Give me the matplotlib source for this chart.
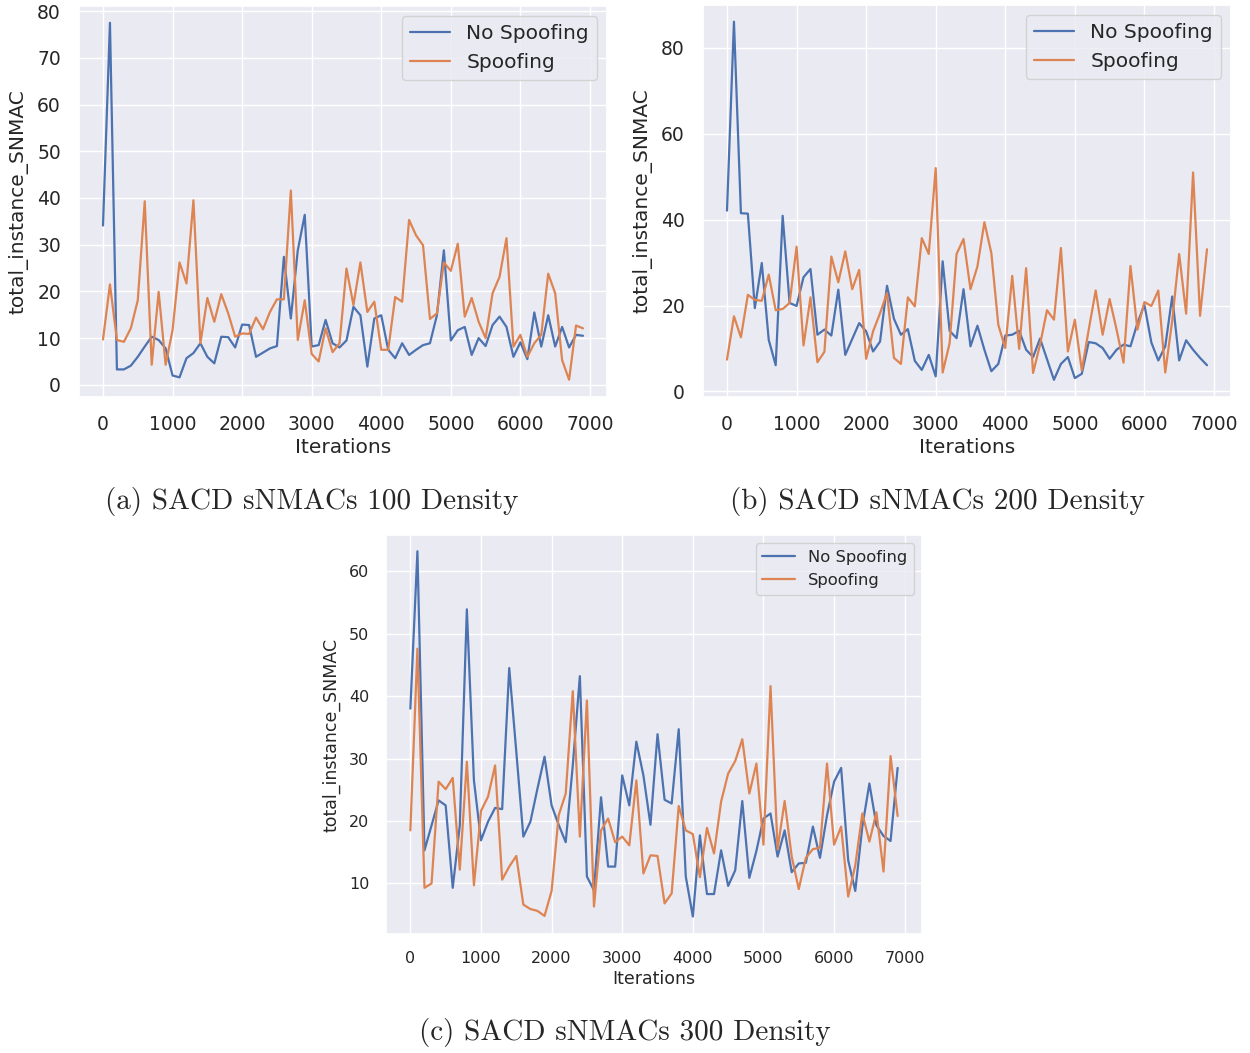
import numpy as np
import matplotlib
matplotlib.use('Agg')
import matplotlib.pyplot as plt
import seaborn as sns

sns.set_theme(style='darkgrid')

# iterations: one point every 100 steps, 0..6900
iters = list(range(0, 7000, 100))

# (a) density 100
a_no_spoof = [34.1, 77.5, 3.3, 3.3, 4.1, 6.0, 8.2, 10.3, 9.6, 7.8,
              2.0, 1.6, 5.7, 6.8, 8.9, 6.0, 4.6, 10.3, 10.2, 8.0,
              12.9, 12.8, 6.0, 6.9, 7.8, 8.3, 27.4, 14.2, 28.8, 36.4,
              8.2, 8.5, 13.9, 8.9, 8.0, 9.5, 16.7, 14.9, 3.9, 14.2,
              14.9, 7.5, 5.7, 8.9, 6.4, 7.5, 8.5, 8.9, 14.9, 28.8,
              9.5, 11.7, 12.4, 6.4, 10.0, 8.3, 12.8, 14.6, 12.4, 6.0,
              9.1, 5.5, 15.5, 8.2, 14.9, 8.2, 12.4, 8.0, 10.7, 10.5]
a_spoof = [9.7, 21.5, 9.6, 9.2, 12.1, 18.1, 39.3, 4.3, 19.9, 4.3,
           11.7, 26.2, 21.7, 39.5, 8.9, 18.6, 13.5, 19.4, 15.3, 10.3,
           11.0, 10.9, 14.4, 11.9, 15.6, 18.3, 18.3, 41.6, 9.6, 18.1,
           6.6, 5.0, 12.1, 7.0, 8.9, 24.9, 17.1, 26.2, 15.6, 17.8,
           7.5, 7.5, 18.8, 17.8, 35.3, 32.0, 29.9, 14.1, 15.3, 26.2,
           24.4, 30.2, 14.6, 18.6, 13.5, 10.0, 19.6, 23.1, 31.4, 8.2,
           10.7, 6.0, 8.9, 10.7, 23.8, 19.6, 5.3, 1.1, 12.7, 12.1]

# (b) density 200
b_no_spoof = [42.1, 86.1, 41.5, 41.4, 19.4, 29.9, 12.0, 6.1, 40.9, 20.6,
              19.9, 26.6, 28.5, 13.2, 14.4, 13.0, 23.7, 8.5, 12.2, 15.9,
              14.0, 9.3, 11.6, 24.6, 16.9, 13.2, 14.5, 7.1, 5.0, 8.5,
              3.5, 30.3, 14.1, 12.4, 23.8, 10.5, 15.3, 9.7, 4.7, 6.4,
              13.0, 13.2, 14.1, 9.7, 8.0, 12.3, 7.5, 2.7, 6.4, 8.0,
              3.1, 4.1, 11.5, 11.2, 10.1, 7.6, 9.7, 10.9, 10.5, 15.9,
              20.2, 11.4, 7.2, 10.5, 22.1, 7.2, 11.9, 9.7, 7.8, 6.1]
b_spoof = [7.4, 17.5, 12.6, 22.5, 21.3, 21.1, 27.2, 18.9, 19.2, 20.6,
           33.7, 10.7, 21.9, 6.8, 9.2, 31.4, 25.4, 32.6, 23.8, 28.3,
           7.6, 14.0, 18.2, 22.9, 7.8, 6.4, 21.9, 19.8, 35.7, 32.0,
           52.0, 4.4, 11.2, 32.0, 35.5, 23.8, 29.1, 39.4, 32.2, 15.5,
           10.1, 26.9, 9.9, 28.7, 4.3, 10.9, 18.9, 16.7, 33.4, 9.3,
           16.7, 4.9, 14.4, 23.5, 13.2, 21.5, 14.4, 6.7, 29.2, 14.4,
           20.8, 19.9, 23.5, 4.4, 16.5, 32.0, 18.1, 51.0, 17.6, 33.1]

# (c) density 300
c_no_spoof = [38.0, 63.2, 15.3, 19.3, 23.3, 22.5, 9.3, 19.3, 53.9, 26.5,
              16.9, 19.9, 22.1, 21.9, 44.5, 31.1, 17.5, 19.9, 25.2, 30.3,
              22.5, 19.4, 16.6, 28.9, 43.2, 11.1, 8.9, 23.8, 12.7, 12.7,
              27.3, 22.5, 32.7, 27.3, 19.4, 33.9, 23.4, 22.8, 34.7, 11.1,
              4.7, 17.7, 8.3, 8.3, 15.3, 9.6, 12.1, 23.2, 10.9, 15.2,
              20.4, 21.2, 14.3, 18.5, 11.8, 13.2, 13.3, 19.1, 14.1, 20.9,
              26.3, 28.5, 13.7, 8.8, 19.1, 26.0, 19.3, 17.6, 16.8, 28.5]
c_spoof = [18.5, 47.6, 9.3, 10.0, 26.3, 25.1, 26.9, 12.2, 29.5, 9.7,
           21.6, 23.9, 28.9, 10.6, 12.7, 14.4, 6.6, 5.9, 5.6, 4.8,
           8.8, 20.9, 24.4, 40.8, 17.5, 39.3, 6.3, 18.5, 20.4, 16.6,
           17.5, 16.1, 26.5, 11.6, 14.5, 14.4, 6.8, 8.4, 22.4, 18.5,
           17.9, 11.0, 18.9, 14.8, 23.1, 27.6, 29.6, 33.1, 24.4, 29.2,
           16.2, 41.6, 15.5, 23.2, 14.3, 9.1, 14.1, 15.5, 15.7, 29.2,
           16.2, 19.1, 7.9, 12.9, 21.2, 16.7, 21.4, 11.9, 30.4, 20.8]

captions = ['(a) SACD sNMACs 100 Density',
            '(b) SACD sNMACs 200 Density',
            '(c) SACD sNMACs 300 Density']

fig = plt.figure(figsize=(12.5, 10.53), dpi=100)

# axes placed in figure fractions to match the page layout
ax_a = fig.add_axes([0.0632, 0.623, 0.4224, 0.3713])
ax_b = fig.add_axes([0.5624, 0.623, 0.4224, 0.3723])
ax_c = fig.add_axes([0.3088, 0.1130, 0.4288, 0.3789])

# ax, series, yticks, ylim, tick size, label size, legend size, pad
panels = [
    (ax_a, a_no_spoof, a_spoof, np.arange(0, 81, 10), (-2.6, 81.1), 13.5, 14.5, 14.5, 7),
    (ax_b, b_no_spoof, b_spoof, np.arange(0, 81, 20), (-1.3, 90.0), 13.5, 14.5, 14.5, 7),
    (ax_c, c_no_spoof, c_spoof, np.arange(10, 61, 10), (1.9, 65.8), 11.5, 12.5, 11.8, 6),
]

for ax, no_sp, sp, yticks, ylim, fs, lfs, legfs, pad in panels:
    ax.plot(iters, no_sp, label='No Spoofing', lw=1.6)
    ax.plot(iters, sp, label='Spoofing', lw=1.6)
    ax.set_xticks(range(0, 7001, 1000))
    ax.set_yticks(yticks)
    ax.set_ylim(*ylim)
    ax.tick_params(labelsize=fs, pad=pad)
    ax.set_xlabel('Iterations', fontsize=lfs, labelpad=3)
    ax.set_ylabel('total_instance_SNMAC', fontsize=lfs, labelpad=6)
    ax.legend(loc='upper right', fontsize=legfs)

fig.text(0.2496, 0.524, captions[0], family='cmr10', fontsize=21,
         ha='center', va='center')
fig.text(0.7496, 0.524, captions[1], family='cmr10', fontsize=21,
         ha='center', va='center')
fig.text(0.5, 0.019, captions[2], family='cmr10', fontsize=21,
         ha='center', va='center')

plt.savefig('out.png', dpi=100)
